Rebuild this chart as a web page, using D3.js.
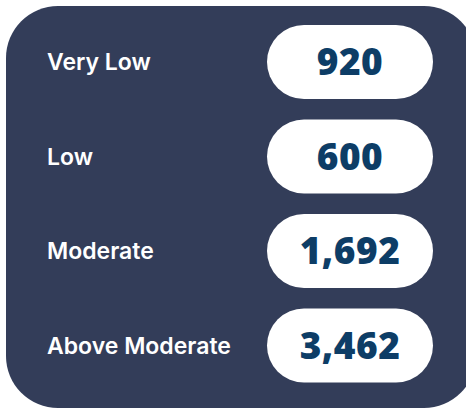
<!DOCTYPE html>
<html>
<head>
    <script src="https://d3js.org/d3.v7.min.js"></script>
    <style>
        body { margin: 0; background: #ffffff; }
    </style>
</head>
<body>
    <div id="viz"></div>
    <script>
        var categories = ["Very Low", "Low", "Moderate", "Above Moderate"];
        var values = [920, 600, 1692, 3462];

        var width = 466, height = 409;

        var svg = d3.select("#viz")
            .append("svg")
            .attr("width", width)
            .attr("height", height);

        // panel background
        svg.append("rect")
            .attr("x", 6)
            .attr("y", 6)
            .attr("width", 470)
            .attr("height", 402)
            .attr("rx", 52)
            .attr("ry", 52)
            .style("fill", "#333d59");

        // row centres
        var y = d3.scalePoint()
            .domain(categories)
            .range([62, 345.5]);

        var row = svg.selectAll(".row")
            .data(categories)
            .enter().append("g")
            .attr("class", "row")
            .attr("transform", function (d) { return "translate(0," + y(d) + ")"; });

        row.append("text")
            .attr("x", 47)
            .attr("y", 0)
            .attr("dy", "0.36em")
            .style("font-family", "Inter, sans-serif")
            .style("font-weight", 600)
            .style("font-size", "23px")
            .style("fill", "#ffffff")
            .text(function (d) { return d; });

        row.append("rect")
            .attr("x", 267)
            .attr("y", -37)
            .attr("width", 166)
            .attr("height", 74)
            .attr("rx", 37)
            .attr("ry", 37)
            .style("fill", "#ffffff");

        row.append("text")
            .attr("x", 350)
            .attr("y", 0)
            .attr("dy", "0.36em")
            .attr("text-anchor", "middle")
            .style("font-family", "'Open Sans', sans-serif")
            .style("font-weight", 800)
            .style("font-size", "37px")
            .style("letter-spacing", "0.5px")
            .style("fill", "#0d3d66")
            .text(function (d, i) { return d3.format(",")(values[i]); });
    </script>
</body>
</html>
